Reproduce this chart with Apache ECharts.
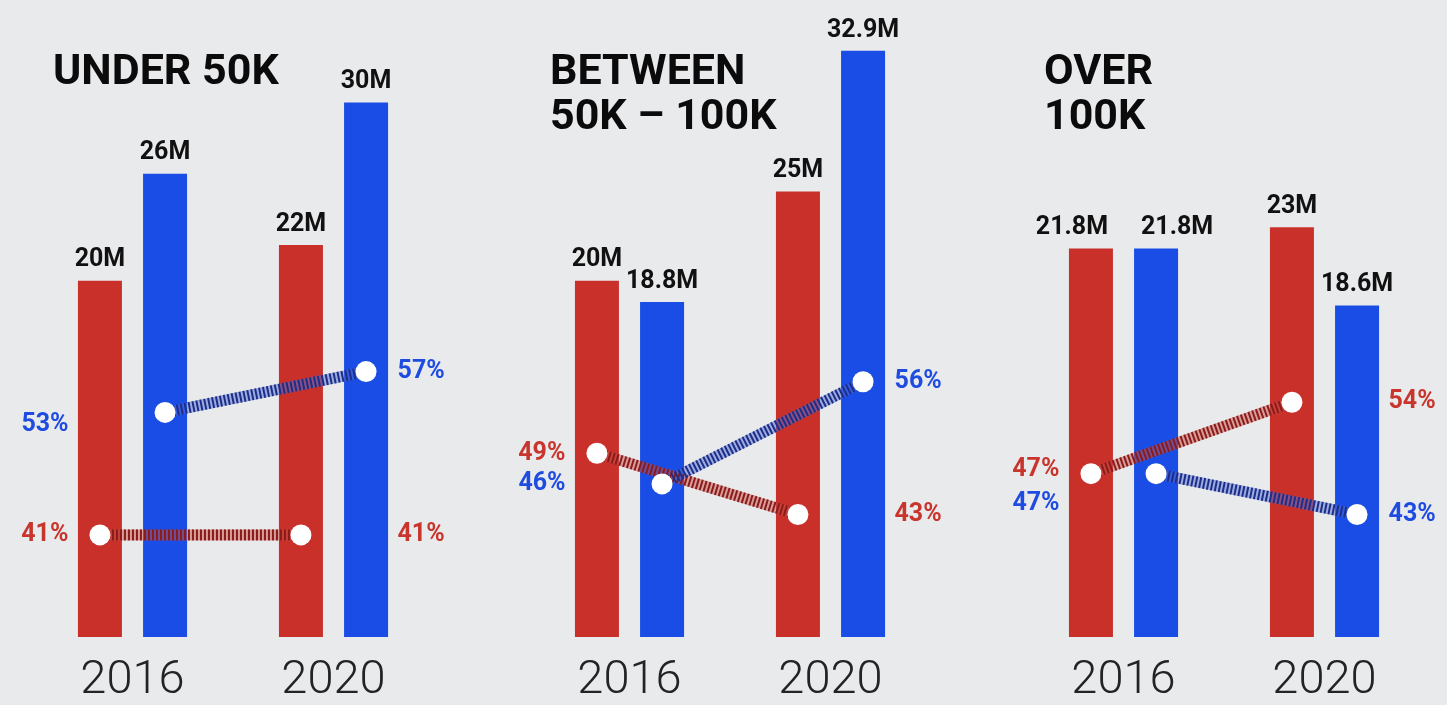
<!DOCTYPE html>
<html>
<head>
<meta charset="utf-8">
<script src="https://cdn.jsdelivr.net/npm/echarts@6/dist/echarts.min.js"></script>
<style>
html,body{margin:0;padding:0;background:#e9eaec;}
#chart{width:1447px;height:705px;}
</style>
</head>
<body>
<div id="chart"></div>
<script>
// ---- data ----
const categories = ['2016', '2020'];
const panelTitles = ['UNDER 50K', 'BETWEEN\n50K – 100K', 'OVER\n100K'];
const repVotes = [[20, 22], [20, 25], [21.8, 23]];      // millions
const demVotes = [[26, 30], [18.8, 32.9], [21.8, 18.6]]; // millions
const repPct = [[41, 41], [49, 43], [47, 54]];
const demPct = [[53, 57], [46, 56], [47, 43]];

// ---- style ----
const RED = '#c9302a', BLUE = '#1a4de6';
const RED_TXT = '#c8352c', BLUE_TXT = '#1f4ce0';
const gridLefts = [32, 529, 1023];
const gridW = 402, gridTop = 49, gridBottom = 66;
const barW = 44, gapRatio = 0.48;
const catPx = gridW / categories.length;
const dotOff = (barW * (1 + gapRatio) / 2) / catPx;
const labelNudge = { '0-dem-0': 12, '2-rep-0': -4, '2-dem-0': 30 };
const barLabelNudge = { '2-rep-0': -19, '2-dem-0': 21 };
const FONT = 'Roboto, "Noto Sans", sans-serif';

const grid = [], xAxis = [], yAxis = [], series = [], title = [];
panelTitles.forEach((t, i) => {
  grid.push({ left: gridLefts[i], width: gridW, top: gridTop, bottom: gridBottom });
  title.push({
    text: t, left: gridLefts[i] + 21, top: 51, padding: 0,
    textStyle: { fontFamily: FONT, fontSize: 43, fontWeight: 'bold', color: '#0b0b0b', lineHeight: 45 }
  });
  xAxis.push({
    type: 'category', gridIndex: i, data: categories,
    axisLine: { show: false }, axisTick: { show: false }, splitLine: { show: false },
    axisLabel: { fontFamily: FONT, fontSize: 47, fontWeight: 300, color: '#232323', margin: 21 }
  });
  xAxis.push({ type: 'value', gridIndex: i, min: -0.5, max: 1.5, show: false });
  yAxis.push({ type: 'value', gridIndex: i, min: 0, max: 33, show: false, splitLine: { show: false } });
  yAxis.push({ type: 'value', gridIndex: i, min: 31, max: 88.6, show: false, splitLine: { show: false } });

  const mkBar = (vals, color, key) => ({
    type: 'bar', xAxisIndex: 2 * i, yAxisIndex: 2 * i, barWidth: barW, barGap: (gapRatio * 100) + '%',
    itemStyle: { color }, z: 2,
    data: vals.map((v, j) => ({
      value: v,
      label: {
        show: true, position: 'top', distance: 8, fontFamily: FONT, fontSize: 25, fontWeight: 'bold',
        color: '#111', formatter: v + 'M', offset: [barLabelNudge[i + '-' + key + '-' + j] || 0, 0]
      }
    }))
  });
  series.push(mkBar(repVotes[i], RED, 'rep'));
  series.push(mkBar(demVotes[i], BLUE, 'dem'));

  const sets = [
    { key: 'rep', pct: repPct[i], off: -dotOff, base: 'rgba(200,80,70,0.5)', hatch: '#8a1b1b', txt: RED_TXT, firstNear: true },
    { key: 'dem', pct: demPct[i], off: dotOff, base: 'rgba(80,110,215,0.5)', hatch: '#1e2d85', txt: BLUE_TXT, firstNear: false }
  ];
  sets.forEach(s => {
    const pts = s.pct.map((p, j) => [j + s.off, p]);
    series.push({ type: 'line', xAxisIndex: 2 * i + 1, yAxisIndex: 2 * i + 1, data: pts, symbol: 'none',
      lineStyle: { color: s.base, width: 11, opacity: 1 }, z: 3, silent: true });
    series.push({ type: 'line', xAxisIndex: 2 * i + 1, yAxisIndex: 2 * i + 1, data: pts, symbol: 'none',
      lineStyle: { color: s.hatch, width: 11, type: [2, 2], cap: 'butt', opacity: 1 }, z: 4, silent: true });
    series.push({
      type: 'scatter', xAxisIndex: 2 * i + 1, yAxisIndex: 2 * i + 1, symbol: 'circle', symbolSize: 21,
      itemStyle: { color: '#ffffff', opacity: 1 }, z: 6,
      data: pts.map((pt, j) => ({
        value: pt,
        label: {
          show: true, position: j === 0 ? 'left' : 'right',
          distance: j === 0 ? (s.firstNear ? 21 : 86) : (s.firstNear ? 86 : 21),
          offset: [0, labelNudge[i + '-' + s.key + '-' + j] || 0],
          formatter: s.pct[j] + '%', fontFamily: FONT, fontSize: 25, fontWeight: 'bold', color: s.txt, opacity: 1
        }
      }))
    });
  });
});

const chart = echarts.init(document.getElementById('chart'));
chart.setOption({
  backgroundColor: '#e9eaec', animation: false,
  title, grid, xAxis, yAxis, series
});
</script>
</body>
</html>
